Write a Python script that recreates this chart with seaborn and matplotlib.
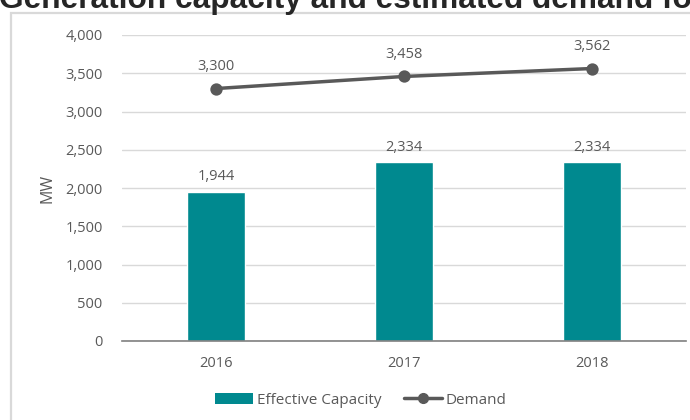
import matplotlib
matplotlib.use("Agg")
import matplotlib.pyplot as plt
import seaborn as sns
import pandas as pd
from matplotlib.patches import Rectangle, Patch
from matplotlib.lines import Line2D
from matplotlib.ticker import FuncFormatter

years = ["2016", "2017", "2018"]
capacity = [1944, 2334, 2334]
demand = [3300, 3458, 3562]
y_ticks = [0, 500, 1000, 1500, 2000, 2500, 3000, 3500, 4000]
title = "Generation capacity and estimated demand for"

sns.set_theme(style="white")
plt.rcParams["font.family"] = ["Open Sans", "DejaVu Sans"]

GRAY = "#595959"
TEAL = "#00898F"
W, H = 690, 420

df = pd.DataFrame({"year": years, "capacity": capacity, "demand": demand})

fig = plt.figure(figsize=(W / 100, H / 100), dpi=100)
ax = fig.add_axes([122 / W, (H - 341) / H, 564 / W, 306 / H])

sns.barplot(data=df, x="year", y="capacity", color=TEAL, width=0.31,
            saturation=1, ax=ax, zorder=2)
sns.pointplot(data=df, x="year", y="demand", color=GRAY, markers="o",
              markersize=7, linewidth=2.5, ax=ax, zorder=3)

ax.set_xlim(-0.5, 2.5)
ax.set_ylim(0, 4000)
ax.set_yticks(y_ticks)
ax.yaxis.set_major_formatter(FuncFormatter(lambda v, p: f"{int(v):,}"))
ax.grid(axis="y", color="#d9d9d9", linewidth=1, zorder=0)
ax.set_axisbelow(True)
for s in ["top", "right", "left"]:
    ax.spines[s].set_visible(False)
ax.spines["bottom"].set_color("#808080")
ax.spines["bottom"].set_linewidth(1.2)
ax.tick_params(axis="y", length=0, pad=14, labelsize=10.5, labelcolor=GRAY)
ax.tick_params(axis="x", length=0, pad=11, labelsize=10.5, labelcolor=GRAY)
ax.set_xlabel("")
ax.set_ylabel("MW", fontsize=11.5, color=GRAY, labelpad=7)

for i, v in enumerate(capacity):
    ax.annotate(f"{v:,}", (i, v), xytext=(0, 8.5), textcoords="offset points",
                ha="center", va="baseline", fontsize=10.5, color=GRAY)
for i, v in enumerate(demand):
    ax.annotate(f"{v:,}", (i, v), xytext=(0, 13), textcoords="offset points",
                ha="center", va="baseline", fontsize=10.5, color=GRAY)

handles = [Patch(facecolor=TEAL, edgecolor="none"),
           Line2D([0], [0], color=GRAY, lw=2.5, marker="o", markersize=7)]
fig.legend(handles, ["Effective Capacity", "Demand"], loc="center",
           bbox_to_anchor=(361 / W, 1 - 400 / H), ncol=2, frameon=False,
           fontsize=11, labelcolor=GRAY, handlelength=2.5,
           handletextpad=0.25, columnspacing=1.45)

fig.patches.append(Rectangle((11 / W, -0.1), 1.2, 1.1 - 13 / H,
                             transform=fig.transFigure, fill=False,
                             edgecolor="#d9d9d9", linewidth=1.6))

fig.text(-1 / W, 1 - 8 / H, title, ha="left", va="baseline",
         fontsize=22.8, fontweight="bold", family=["Liberation Sans", "DejaVu Sans"])

fig.savefig("out.png", dpi=100)
